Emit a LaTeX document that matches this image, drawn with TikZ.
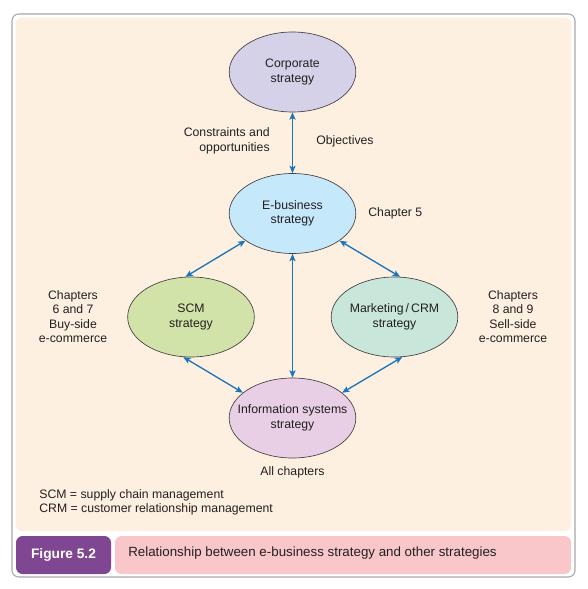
\documentclass[tikz,border=0pt]{standalone}
\usepackage{fontspec}
\setmainfont{Liberation Sans}
\usetikzlibrary{shapes.geometric,arrows.meta}
\definecolor{panelcream}{HTML}{FDF0E0}
\definecolor{framegrey}{HTML}{A8A8A8}
\definecolor{corpfill}{HTML}{D5D1E8}
\definecolor{ebizfill}{HTML}{C6E8FB}
\definecolor{scmfill}{HTML}{D1E3A8}
\definecolor{crmfill}{HTML}{C8E6D9}
\definecolor{isfill}{HTML}{E8CFE5}
\definecolor{figpurple}{HTML}{7F4791}
\definecolor{captionpink}{HTML}{F9C7CA}
\definecolor{linkblue}{HTML}{1C74BB}
\definecolor{txt}{HTML}{231F20}
\newcommand{\bodyfont}{\fontsize{9.2}{10.8}\selectfont}
\newcommand{\elltext}[1]{\makebox[0pt]{\begin{tabular}{@{}c@{}}#1\end{tabular}}}

\begin{document}
\begin{tikzpicture}[x=.75pt,y=-.75pt,line width=.5pt,
  strat/.style={ellipse,draw=txt!85,fill=#1,minimum width=95pt,minimum height=60pt,
    inner sep=0pt,font=\bodyfont,text=txt},
  link/.style={draw=linkblue,line width=1pt,
    {Stealth[length=5.5pt,width=4.6pt,inset=1.2pt]}-{Stealth[length=5.5pt,width=4.6pt,inset=1.2pt]}},
  note/.style={font=\bodyfont,text=txt,align=center,inner sep=0pt}]
\useasboundingbox (0,0) rectangle (587,589);
% Cadre, panneau et bandeau de legende.
\draw[framegrey,fill=white,rounded corners=5pt,line width=.8pt] (12,14) rectangle (575,577);
\fill[panelcream,rounded corners=5pt] (15.5,17.5) rectangle (571,531);
\fill[figpurple,rounded corners=5pt] (16,536) rectangle (111,574);
\fill[captionpink,rounded corners=5pt] (115,536) rectangle (571,574);
\node[font=\bfseries\fontsize{10.3}{12}\selectfont,text=white] (fig) at (63.5,555) {Figure 5.2};
\node[anchor=west,font=\fontsize{10}{12}\selectfont,text=txt,inner sep=0pt] (cap) at (128,553.5)
  {Relationship between e-business strategy and other strategies};
% Les cinq strategies.
\node[strat=corpfill] (corp) at (292.5,72) {\elltext{Corporate\\strategy}};
\node[strat=ebizfill] (ebiz) at (292.5,213.5) {\elltext{E-business\\strategy}};
\node[strat=scmfill] (scm) at (191,317) {\elltext{SCM\\strategy}};
\node[strat=crmfill] (crm) at (394.5,317) {\elltext{Marketing\,/\,CRM\\strategy}};
\node[strat=isfill] (is) at (292.5,418) {\elltext{Information systems\\strategy}};
% Liens dans les deux sens.
\draw[link] (corp) -- (ebiz);
\draw[link] (ebiz) -- (is);
\draw[link] (ebiz.210) -- (scm.98);
\draw[link] (ebiz.330) -- (crm.82);
\draw[link] (scm.259) -- (is.153);
\draw[link] (crm.281) -- (is.27);
% Annotations.
\node[note,anchor=east,align=right] (constr) at (270,141) {Constraints and\\opportunities};
\node[note,anchor=west] (obj) at (316,141) {Objectives};
\node[note,anchor=west] (ch5) at (368,213) {Chapter 5};
\node[note] (chleft) at (73,316.5) {Chapters\\6 and 7\\Buy-side\\e-commerce};
\node[note] (chright) at (513,316.5) {Chapters\\8 and 9\\Sell-side\\e-commerce};
\node[note] (allch) at (292.5,472) {All chapters};
\node[note,anchor=west,align=left] (legend) at (39,502.5)
  {SCM = supply chain management\\CRM = customer relationship management};
\end{tikzpicture}
\end{document}
